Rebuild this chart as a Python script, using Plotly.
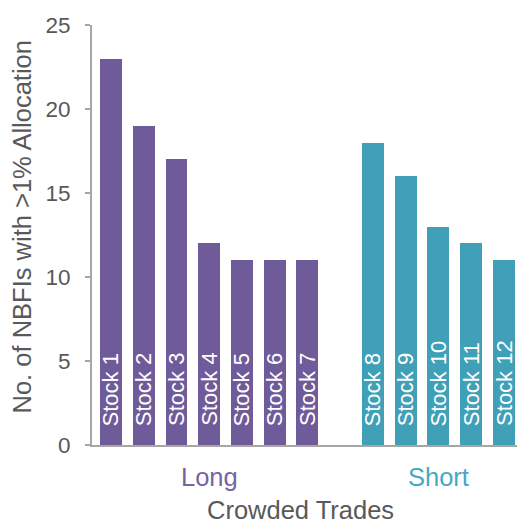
import plotly.graph_objects as go

# Crowded trades: number of NBFIs holding a >1% allocation
long_stocks = ["Stock 1", "Stock 2", "Stock 3", "Stock 4", "Stock 5", "Stock 6", "Stock 7"]
long_counts = [23, 19, 17, 12, 11, 11, 11]
short_stocks = ["Stock 8", "Stock 9", "Stock 10", "Stock 11", "Stock 12"]
short_counts = [18, 16, 13, 12, 11]
group_names = ["Long", "Short"]
y_ticks = [0, 5, 10, 15, 20, 25]

PURPLE = "#6F5B9A"
TEAL = "#3FA0B8"
PURPLE_TXT = "#7563A8"
TEAL_TXT = "#45A9C6"
GREY_TXT = "#595959"
AXIS_GREY = "#A6A6A6"
FONT = "Liberation Sans, Arial, sans-serif"

# slot positions: long group first, one empty slot, then the short group
long_x = list(range(len(long_stocks)))
short_x = [len(long_stocks) + 1 + i for i in range(len(short_stocks))]

fig = go.Figure()
fig.add_trace(go.Bar(x=long_x, y=long_counts, width=0.67,
                     marker=dict(color=PURPLE, line=dict(width=0)),
                     hovertext=long_stocks, showlegend=False))
fig.add_trace(go.Bar(x=short_x, y=short_counts, width=0.67,
                     marker=dict(color=TEAL, line=dict(width=0)),
                     hovertext=short_stocks, showlegend=False))

annotations = []
# vertical stock names inside each bar, near the base
for xs, names in ((long_x, long_stocks), (short_x, short_stocks)):
    for x, name in zip(xs, names):
        annotations.append(dict(x=x, y=0, xref="x", yref="y", text=name,
                                textangle=-90, showarrow=False,
                                xanchor="center", yanchor="bottom", yshift=17,
                                font=dict(family=FONT, size=22, color="white")))

# group labels under the axis
for xs, name, col in ((long_x, group_names[0], PURPLE_TXT),
                      (short_x, group_names[1], TEAL_TXT)):
    annotations.append(dict(x=sum(xs) / len(xs), y=0, xref="x", yref="y",
                            text=name, showarrow=False,
                            xanchor="center", yanchor="middle", yshift=-32,
                            font=dict(family=FONT, size=25.5, color=col)))

# axis titles
annotations.append(dict(x=0.49, y=0, xref="paper", yref="y", text="Crowded Trades",
                        showarrow=False, xanchor="center", yanchor="middle",
                        yshift=-65, font=dict(family=FONT, size=25.5, color=GREY_TXT)))
annotations.append(dict(x=-0.165, y=0.52, xref="paper", yref="paper",
                        text="No. of NBFIs with >1% Allocation", textangle=-90,
                        showarrow=False, xanchor="center", yanchor="middle",
                        font=dict(family=FONT, size=25.5, color=GREY_TXT)))

fig.update_layout(
    width=517, height=524,
    margin=dict(l=92, r=0, t=25, b=79),
    paper_bgcolor="white", plot_bgcolor="white",
    bargap=0, annotations=annotations,
    font=dict(family=FONT, color=GREY_TXT),
)
fig.update_xaxes(range=[-0.58, 12.4], showticklabels=False, showgrid=False,
                 zeroline=False, showline=True, linecolor=AXIS_GREY, linewidth=2,
                 ticks="")
fig.update_yaxes(range=[0, 25], tickvals=y_ticks, showgrid=False, zeroline=False,
                 showline=True, linecolor=AXIS_GREY, linewidth=2,
                 ticks="outside", ticklen=5, tickwidth=2, tickcolor=AXIS_GREY,
                 ticklabelstandoff=10,
                 tickfont=dict(family=FONT, size=22.5, color=GREY_TXT))

fig.write_html("out.html")
